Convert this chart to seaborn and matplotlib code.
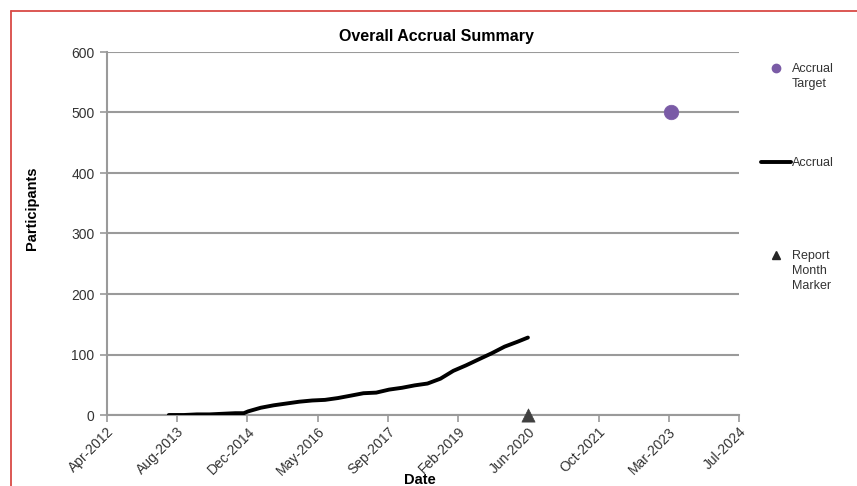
import datetime as dt
import matplotlib
matplotlib.use("Agg")
import matplotlib.pyplot as plt
import matplotlib.dates as mdates
from matplotlib.lines import Line2D
import numpy as np
import pandas as pd
import seaborn as sns

# ---------------- data ----------------
accrual_dates = ["2013-06-15", "2013-07-01", "2013-10-01", "2014-01-01", "2014-04-01",
                 "2014-07-01", "2014-10-01", "2014-12-01", "2015-01-01", "2015-04-01",
                 "2015-07-01", "2015-10-01", "2016-01-01", "2016-04-01", "2016-07-01",
                 "2016-10-01", "2017-01-01", "2017-04-01", "2017-07-01", "2017-10-01",
                 "2018-01-01", "2018-04-01", "2018-07-01", "2018-10-01", "2019-01-01",
                 "2019-04-01", "2019-07-01", "2019-10-01", "2020-01-01", "2020-04-01",
                 "2020-06-15"]
accrual_values = [0, 0, 0, 1, 1,
                  2, 3, 3, 6, 12,
                  16, 19, 22, 24, 25,
                  28, 32, 36, 37, 42,
                  45, 49, 52, 60, 73,
                  82, 92, 102, 113, 121,
                  128]
target_date = ["2023-04-01"]
target_value = [500]
report_date = ["2020-06-15"]
report_value = [0]

axis_start = "2012-04-01"
tick_step_days = 500
n_ticks = 10
y_ticks = [0, 100, 200, 300, 400, 500, 600]

legend_labels = [["Accrual", "Target"], ["Accrual"], ["Report", "Month", "Marker"]]

# ---------------- style ----------------
sns.set_theme(style="white")
plt.rcParams["font.family"] = ["Liberation Sans", "DejaVu Sans"]

fig = plt.figure(figsize=(8.57, 4.86), dpi=100)
ax = fig.add_axes([107 / 857, 1 - 415 / 486, (739 - 107) / 857, (415 - 52) / 486])

grid_c = "#9a9a9a"

df_acc = pd.DataFrame({"date": pd.to_datetime(accrual_dates), "value": accrual_values})
df_tgt = pd.DataFrame({"date": pd.to_datetime(target_date), "value": target_value})
df_rep = pd.DataFrame({"date": pd.to_datetime(report_date), "value": report_value})

sns.lineplot(data=df_acc, x="date", y="value", ax=ax, color="black", linewidth=2.8,
             zorder=5, legend=False)
sns.scatterplot(data=df_tgt, x="date", y="value", ax=ax, color="#7a5ba6", s=110,
                edgecolor="#7a5ba6", linewidth=0.5, zorder=6, legend=False)
sns.scatterplot(data=df_rep, x="date", y="value", ax=ax, color="#404040", marker="^",
                s=90, edgecolor="#404040", linewidth=0.5, zorder=6, clip_on=False,
                legend=False)

start = mdates.date2num(pd.Timestamp(axis_start))
ticks = [start + i * tick_step_days for i in range(n_ticks)]
ax.set_xlim(ticks[0], ticks[-1])
ax.set_xticks(ticks)
ax.set_xticklabels([mdates.num2date(t).strftime("%b-%Y") for t in ticks],
                   rotation=45, ha="right", rotation_mode="anchor", fontsize=10,
                   color="#333333")
ax.set_ylim(0, 600)
ax.set_yticks(y_ticks)
ax.set_yticklabels([str(v) for v in y_ticks], fontsize=10, color="#333333")

ax.yaxis.grid(True, color=grid_c, linewidth=1.5)
ax.set_axisbelow(True)
for s in ["top", "right"]:
    ax.spines[s].set_visible(False)
for s in ["left", "bottom"]:
    ax.spines[s].set_color(grid_c)
    ax.spines[s].set_linewidth(1.5)
ax.tick_params(axis="both", which="major", direction="out", length=5, width=1.2,
               color=grid_c, bottom=True, left=True)
ax.tick_params(axis="x", pad=2)
ax.tick_params(axis="y", pad=4)

ax.set_xlabel("")
ax.set_ylabel("")
fig.text(32 / 857, 1 - 208 / 486, "Participants", rotation=90, ha="center", va="center",
         fontsize=10.5, fontweight="bold", color="black")
fig.text(420 / 857, 1 - 484 / 486, "Date", ha="center", va="baseline",
         fontsize=10.5, fontweight="bold", color="black")
fig.text(436 / 857, 1 - 36 / 486, "Overall Accrual Summary", ha="center", va="center",
         fontsize=11.5, fontweight="bold", color="black")

# legends (handle aligned with first line of each label, as in the reference)
h1 = Line2D([], [], marker="o", color="#7a5ba6", linestyle="none", markersize=6)
h2 = Line2D([], [], color="black", linewidth=2.8)
h3 = Line2D([], [], marker="^", color="#262626", linestyle="none", markersize=6)
leg_kw = dict(frameon=False, fontsize=9, handlelength=2.4, handletextpad=0.05,
              borderaxespad=0, labelspacing=0.1, loc="upper left")
anchors = [1 - 58 / 486, 1 - 152 / 486, 1 - 245 / 486]
legs = []
for h, lab, yy in zip([h1, h2, h3], legend_labels, anchors):
    lg = fig.legend([h], [lab[0]], bbox_to_anchor=(756 / 857, yy), **leg_kw)
    for t in lg.get_texts():
        t.set_color("#333333")
    legs.append(lg)

fig.canvas.draw()
renderer = fig.canvas.get_renderer()
inv = fig.transFigure.inverted()
line_h = 15 / 486
for lg, lab in zip(legs, legend_labels):
    if len(lab) > 1:
        t = lg.get_texts()[0]
        bb = t.get_window_extent(renderer)
        x0, y0 = inv.transform((bb.x0, bb.y0))
        for k, extra in enumerate(lab[1:], start=1):
            fig.text(x0, y0 - k * line_h, extra, ha="left", va="bottom",
                     fontsize=9, color="#333333")

# red frame
red = "#d94a45"
fig.add_artist(Line2D([11 / 857, 11 / 857], [0, 1 - 11 / 486], transform=fig.transFigure,
                      color=red, linewidth=1.3))
fig.add_artist(Line2D([11 / 857, 1], [1 - 11 / 486, 1 - 11 / 486], transform=fig.transFigure,
                      color=red, linewidth=1.3))

fig.savefig("out.png", dpi=100, facecolor="white")
